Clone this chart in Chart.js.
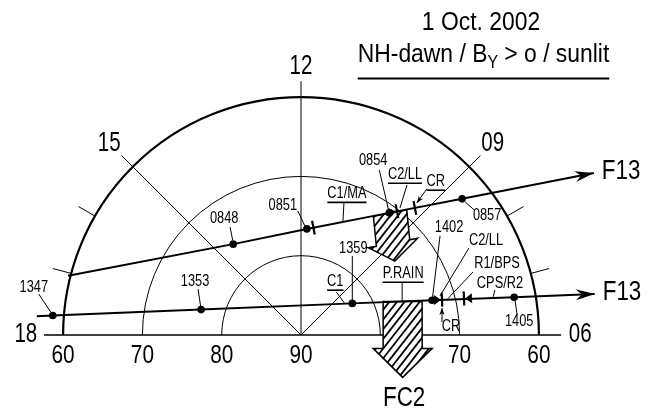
<!DOCTYPE html>
<html>
<head>
<meta charset="utf-8">
<script src="https://cdn.jsdelivr.net/npm/chart.js@4/dist/chart.umd.min.js"></script>
<style>html,body{margin:0;padding:0;background:#fff}canvas{display:block}</style>
</head>
<body>
<canvas id="dial" width="654" height="414"></canvas>
<script>
// ---- Dial (MLT / MLAT) ----
const latCircles = [60, 70, 80];
const hourSpokes = [12, 15, 9];
const hourLabels = ['12', '15', '09', '18', '06'];
const hourLabelMLT = [12, 15, 9, 18, 6];
const minorHourTicks = [7, 8, 16, 17];
const latLabelsLeft = [60, 70, 80, 90];
const latLabelsRight = [70, 60];

// ---- F13 passes (MLT, MLAT) ----
const passAtimes = ['', '0848', '0851', '0854', '0857', ''];
const passAmlt   = [17.05, 14.45, 11.79, 9.61, 8.68, 7.93];
const passAmlat  = [59.7, 75.7, 76.6, 71.0, 63.4, 47.8];

const passBtimes = ['', '1347', '1353', '1359', '1402', '1405', ''];
const passBmlt   = [17.73, 17.70, 17.05, 8.11, 6.99, 6.67, 6.53];
const passBmlat  = [56.6, 58.6, 77.0, 82.4, 72.9, 62.7, 52.6];

// ---- Boundary markers along the passes ----
const boundPass = ['A', 'A', 'A', 'B', 'B'];
const boundKind = ['bar', 'tri-bar', 'bar', 'tri-bar', 'bar-tri'];
const boundMlt  = [11.56, 9.48, 9.21, 6.94, 6.84];
const boundMlat = [76.37, 70.25, 68.48, 71.67, 68.94];

// ---- Precipitation arrows (top centre) ----
const fluxMlt  = [9.59, 7.22];
const fluxMlat = [70.96, 76.5];

// ---- Text ----
const titleDate = '1 Oct. 2002';
const titleCase = ['NH-dawn / B', 'Y', ' > o / sunlit'];
const passName = 'F13';
const fluxName = 'FC2';

// layout of the dial on the canvas
const KPX = 7.93, CX = 301, CY = 335, W = 654, H = 414;
const FONT = '"Liberation Sans", Arial, sans-serif';
const NARROW = 0.8;   // horizontal squeeze for the condensed lettering

function polar(mlt, mlat) {
  const th = (12 - mlt) * Math.PI / 12, c = 90 - mlat;
  return { x: c * Math.sin(th), y: c * Math.cos(th) };
}
const passA = passAmlt.map((m, i) => polar(m, passAmlat[i]));
const passB = passBmlt.map((m, i) => polar(m, passBmlat[i]));

// label placement (pixel offsets from the anchor mark)
const notes = [
  { t: '0848', a: ['A', 1], at: [-9, -26], from: [-3, -17], to: [-0.5, -4] },
  { t: '0851', a: ['A', 2], at: [-24, -23], from: [-9, -18], to: [-2, -3] },
  { t: '0854', a: ['A', 3], at: [-16, -52], from: [-10, -43], to: [-1, -4] },
  { t: '0857', a: ['A', 4], at: [25, 17], from: [12, 11], to: [3, 3] },
  { t: 'C1/MA', a: ['M', 0], at: [33.5, -33.6], from: [30.5, -24.6], to: [29.5, -5.6], u: true },
  { t: 'C2/LL', a: ['M', 1], at: [8, -36.3], from: [10, -26.3], to: [3, -3.3], u: true },
  { t: 'CR', a: ['M', 2], at: [21, -26], from: [12, -19], to: [2, -5], u: true, arrow: true },
  { t: '1347', a: ['B', 1], at: [-19, -27.4], from: [-14, -21.4], to: [-2, -3.4] },
  { t: '1353', a: ['B', 2], at: [-6, -28.5], from: [-3, -20.5], to: [-0.5, -3.5] },
  { t: 'C1', a: ['B', 3], at: [-17, -21.5], from: [-16, -11.5], to: [-8, -0.5], u: true },
  { t: '1359', a: ['B', 3], at: [1, -54.5], from: [0, -47.5], to: [0, -3.5] },
  { t: '', a: ['B', 3], from: [14, -55.5], to: [20, -56.5] },
  { t: 'P.RAIN', a: ['F', 1], at: [0.5, -27.5], from: [-0.5, -18.5], to: [-0.5, -0.5], u: true },
  { t: '1402', a: ['B', 4], at: [17, -72.4], from: [8, -64.4], to: [0.5, -3.4] },
  { t: 'C2/LL', a: ['M', 3], at: [44, -58.6], from: [27, -51.6], to: [-2, -3.6] },
  { t: 'R1/BPS', a: ['M', 3], at: [55, -35.6], from: [31, -27.6], to: [6, -1.1] },
  { t: 'CPS/R2', a: ['M', 4], at: [36, -14.7], from: [31, -8.7], to: [29, -1.2] },
  { t: '1405', a: ['B', 5], at: [5, 24.8], from: [3, 17.8], to: [1, 3.8] },
  { t: 'CR', a: ['M', 3], at: [9, 27.4], from: [0, 22.4], to: [0, 8.4], arrow: true }
];

// condensed text: draws s at (x, y) and returns its drawn width
function txt(ctx, s, x, y, size, align, base, squeeze) {
  const sx = squeeze || NARROW;
  ctx.save();
  ctx.font = size + 'px ' + FONT;
  ctx.textAlign = align || 'center';
  ctx.textBaseline = base || 'middle';
  ctx.translate(x, y);
  ctx.scale(sx, 1);
  ctx.fillText(s, 0, 0);
  const w = ctx.measureText(s).width * sx;
  ctx.restore();
  return w;
}
function textWidth(ctx, s, size, squeeze) {
  ctx.save(); ctx.font = size + 'px ' + FONT;
  const w = ctx.measureText(s).width * (squeeze || NARROW);
  ctx.restore(); return w;
}
function arrowHead(ctx, x0, y0, x1, y1, len, hw, notch) {
  const a = Math.atan2(y1 - y0, x1 - x0), c = Math.cos(a), s = Math.sin(a);
  ctx.beginPath();
  ctx.moveTo(x1, y1);
  ctx.lineTo(x1 - len * c - hw * s, y1 - len * s + hw * c);
  ctx.lineTo(x1 - notch * c, y1 - notch * s);
  ctx.lineTo(x1 - len * c + hw * s, y1 - len * s - hw * c);
  ctx.closePath();
  ctx.fill();
}

const dialPlugin = {
  id: 'dialPlugin',
  beforeDatasetsDraw(chart) {
    const ctx = chart.ctx, xs = chart.scales.x, ys = chart.scales.y;
    const k = xs.getPixelForValue(1) - xs.getPixelForValue(0);
    const P = (mlt, mlat) => { const p = polar(mlt, mlat); return [xs.getPixelForValue(p.x), ys.getPixelForValue(p.y)]; };
    const [cx, cy] = P(12, 90);
    ctx.save();
    ctx.strokeStyle = '#000'; ctx.fillStyle = '#000';
    // latitude circles
    latCircles.forEach(lat => {
      ctx.lineWidth = lat === 60 ? 2.2 : 1;
      ctx.beginPath(); ctx.arc(cx, cy, (90 - lat) * k, Math.PI, 2 * Math.PI); ctx.stroke();
    });
    // MLT spokes
    ctx.lineWidth = 1;
    hourSpokes.forEach(h => {
      const [x, y] = P(h, 58); ctx.beginPath(); ctx.moveTo(cx, cy); ctx.lineTo(x, y); ctx.stroke();
    });
    // 18 - 06 line
    ctx.lineWidth = 1.3;
    const [lx, ly] = P(18, 57.6), [rx, ry] = P(6, 57.2);
    ctx.beginPath(); ctx.moveTo(lx, ly); ctx.lineTo(rx, ry); ctx.stroke();
    // hour ticks on the 60 circle
    ctx.lineWidth = 1;
    minorHourTicks.forEach(h => {
      const [a, b] = P(h, 60), [c, d] = P(h, 57.6);
      ctx.beginPath(); ctx.moveTo(a, b); ctx.lineTo(c, d); ctx.stroke();
    });
    // hatched precipitation arrows: shaft along d, top edge and barbs along n
    const trackAng = Math.atan2(ys.getPixelForValue(passA[5].y) - ys.getPixelForValue(passA[0].y),
                                xs.getPixelForValue(passA[5].x) - xs.getPixelForValue(passA[0].x));
    const dims = [
      { d: [0.1, 1], n: [Math.cos(trackAng), Math.sin(trackAng)], sw: 34, sl: 30, hw: 50, hl: 18 },
      { d: [0, 1], n: [1, 0], sw: 39, sl: 47, hw: 59, hl: 29 }
    ];
    fluxMlt.forEach((m, i) => {
      const [x0, y0] = P(m, fluxMlat[i]);
      const g = dims[i];
      const pt = (l, w) => [x0 + l * g.d[0] + w * g.n[0], y0 + l * g.d[1] + w * g.n[1]];
      const pts = [pt(0, -g.sw / 2), pt(g.sl, -g.sw / 2), pt(g.sl, -g.hw / 2), pt(g.sl + g.hl, 0),
                   pt(g.sl, g.hw / 2), pt(g.sl, g.sw / 2), pt(0, g.sw / 2)];
      const outline = () => {
        ctx.beginPath();
        pts.forEach((p, j) => j ? ctx.lineTo(p[0], p[1]) : ctx.moveTo(p[0], p[1]));
        ctx.closePath();
      };
      outline();
      ctx.fillStyle = '#fff'; ctx.fill();
      ctx.save(); ctx.clip();
      ctx.lineWidth = 1.8; ctx.strokeStyle = '#000';
      const hx = Math.cos(-52 * Math.PI / 180), hy = Math.sin(-52 * Math.PI / 180);
      for (let t = -120; t <= 120; t += 7.6) {
        ctx.beginPath();
        ctx.moveTo(x0 + t - 100 * hx, y0 + 30 - 100 * hy);
        ctx.lineTo(x0 + t + 100 * hx, y0 + 30 + 100 * hy);
        ctx.stroke();
      }
      ctx.restore();
      outline();
      ctx.lineWidth = 1.5; ctx.strokeStyle = '#000'; ctx.stroke();
    });
    ctx.restore();
  },
  afterDatasetsDraw(chart) {
    const ctx = chart.ctx, xs = chart.scales.x, ys = chart.scales.y;
    const k = xs.getPixelForValue(1) - xs.getPixelForValue(0);
    const px = p => [xs.getPixelForValue(p.x), ys.getPixelForValue(p.y)];
    const P = (mlt, mlat) => px(polar(mlt, mlat));
    const [cx, cy] = P(12, 90);
    ctx.save();
    ctx.strokeStyle = '#000'; ctx.fillStyle = '#000';
    const passes = { A: passA, B: passB };
    // track arrowheads and names
    ['A', 'B'].forEach(n => {
      const p = passes[n], [x0, y0] = px(p[p.length - 2]), [x1, y1] = px(p[p.length - 1]);
      arrowHead(ctx, x0, y0, x1, y1, 19, 5.5, 13);
      txt(ctx, passName, x1 + 8, y1 - 2, 28, 'left');
    });
    // boundary markers
    const markers = boundMlt.map((m, i) => P(m, boundMlat[i]));
    boundKind.forEach((kind, i) => {
      const p = passes[boundPass[i]], [a0, b0] = px(p[0]), [a1, b1] = px(p[p.length - 1]);
      const ang = Math.atan2(b1 - b0, a1 - a0), c = Math.cos(ang), s = Math.sin(ang);
      const [x, y] = markers[i];
      ctx.lineWidth = 2.2;
      ctx.beginPath(); ctx.moveTo(x + 7 * s, y - 7 * c); ctx.lineTo(x - 7 * s, y + 7 * c); ctx.stroke();
      if (kind !== 'bar') {
        const dir = kind === 'tri-bar' ? 1 : -1;
        const tipX = x - dir * 1 * c, tipY = y - dir * 1 * s;
        const bx = x - dir * 8 * c, by = y - dir * 8 * s;
        ctx.beginPath();
        ctx.moveTo(tipX, tipY);
        ctx.lineTo(bx + 5 * s, by - 5 * c);
        ctx.lineTo(bx - 5 * s, by + 5 * c);
        ctx.closePath(); ctx.fill();
      }
    });
    // labels with leaders
    const flux = fluxMlt.map((m, i) => P(m, fluxMlat[i]));
    notes.forEach(nt => {
      let ax, ay;
      if (nt.a[0] === 'M') [ax, ay] = markers[nt.a[1]];
      else if (nt.a[0] === 'F') [ax, ay] = flux[nt.a[1]];
      else [ax, ay] = px(passes[nt.a[0]][nt.a[1]]);
      ctx.lineWidth = 1;
      const fx = ax + nt.from[0], fy = ay + nt.from[1], tx = ax + nt.to[0], ty = ay + nt.to[1];
      ctx.beginPath(); ctx.moveTo(fx, fy); ctx.lineTo(tx, ty); ctx.stroke();
      if (nt.arrow) arrowHead(ctx, fx, fy, tx, ty, 7, 2.6, 5);
      if (nt.t) {
        const x = ax + nt.at[0], y = ay + nt.at[1];
        const w = txt(ctx, nt.t, x, y, 16);
        if (nt.u) {
          ctx.lineWidth = 1.6;
          ctx.beginPath(); ctx.moveTo(x - w / 2, y + 8.3); ctx.lineTo(x + w / 2, y + 8.3); ctx.stroke();
        }
      }
    });
    // hour labels
    const hourR = [33.8, 34.2, 34.2, 34.7, 35.2];
    hourLabels.forEach((s, i) => {
      const [x, y] = P(hourLabelMLT[i], 90 - hourR[i]);
      txt(ctx, s, x, y, 27, 'center', 'middle', 0.76);
    });
    // latitude labels on the 18-06 line
    latLabelsLeft.forEach(lat => txt(ctx, String(lat), cx - (90 - lat) * k, cy + 21, 26, 'center', 'middle', 0.8));
    latLabelsRight.forEach(lat => txt(ctx, String(lat), cx + (90 - lat) * k, cy + 21, 26, 'center', 'middle', 0.8));
    // flux arrow name
    txt(ctx, fluxName, flux[1][0] + 1.5, cy + 63, 28);
    // title block
    const SQ = 0.88;
    txt(ctx, titleDate, 481, 30, 26, 'center', 'alphabetic', SQ);
    const w1 = textWidth(ctx, titleCase[0], 26, SQ), w2 = textWidth(ctx, titleCase[1], 18, SQ),
          w3 = textWidth(ctx, titleCase[2], 26, SQ);
    const total = w1 + w2 + w3, x0 = 483.5 - total / 2;
    txt(ctx, titleCase[0], x0, 62, 26, 'left', 'alphabetic', SQ);
    txt(ctx, titleCase[1], x0 + w1, 68, 18, 'left', 'alphabetic', SQ);
    txt(ctx, titleCase[2], x0 + w1 + w2, 62, 26, 'left', 'alphabetic', SQ);
    ctx.lineWidth = 2;
    ctx.beginPath(); ctx.moveTo(x0, 78.5); ctx.lineTo(x0 + total, 78.5); ctx.stroke();
    ctx.restore();
  }
};

const trackStyle = (times) => ({
  showLine: true, borderColor: '#000', borderWidth: 2, tension: 0,
  pointRadius: c => times[c.dataIndex] ? 3.8 : 0,
  pointBackgroundColor: '#000', pointBorderWidth: 0
});

new Chart(document.getElementById('dial'), {
  type: 'scatter',
  data: {
    datasets: [
      Object.assign({ label: 'F13 08 UT', data: passA }, trackStyle(passAtimes)),
      Object.assign({ label: 'F13 14 UT', data: passB }, trackStyle(passBtimes))
    ]
  },
  options: {
    responsive: false, devicePixelRatio: 1, animation: false, events: [],
    layout: { padding: 0 },
    scales: {
      x: { type: 'linear', display: false, min: -CX / KPX, max: (W - CX) / KPX },
      y: { type: 'linear', display: false, min: -(H - CY) / KPX, max: CY / KPX }
    },
    plugins: { legend: { display: false }, tooltip: { enabled: false } }
  },
  plugins: [dialPlugin]
});
</script>
</body>
</html>
